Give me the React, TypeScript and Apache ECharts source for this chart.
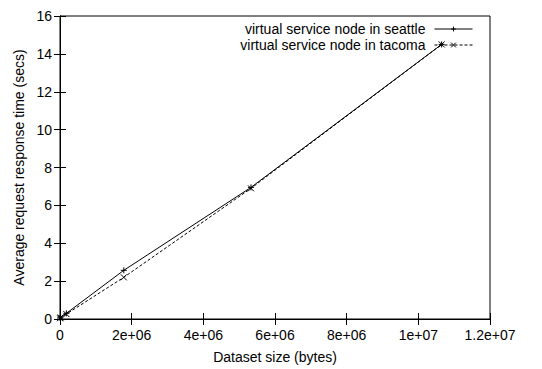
import React, { useEffect, useRef } from "react";
import * as echarts from "echarts";

const xSizes = [1700, 17800, 178000, 1780000, 5330000, 10650000];
const seattleTimes = [0.05, 0.1, 0.3, 2.57, 6.95, 14.5];
const tacomaTimes = [0.04, 0.08, 0.26, 2.2, 6.9, 14.5];
const xTickLabels = ["0", "2e+06", "4e+06", "6e+06", "8e+06", "1e+07", "1.2e+07"];
const yTickLabels = ["0", "2", "4", "6", "8", "10", "12", "14", "16"];
const seriesNames = ["virtual service node in seattle", "virtual service node in tacoma"];

const PLUS = "path://M0,5L10,5M5,0L5,10";
const CROSS = "path://M0,0L10,10M10,0L0,10";

export default function App() {
  const ref = useRef<HTMLDivElement>(null);
  useEffect(() => {
    if (!ref.current) return;
    const chart = echarts.init(ref.current, undefined, { renderer: "svg" });
    const font = "'Liberation Sans', Arial, Helvetica, sans-serif";
    const axisCommon = {
      axisLine: { show: true, lineStyle: { color: "#000", width: 1 } },
      axisTick: { show: true, inside: true, length: 6, lineStyle: { color: "#000" } },
      splitLine: { show: false },
    };
    const legendCommon = {
      right: 64,
      align: "right",
      itemWidth: 38,
      itemHeight: 6,
      lineStyle: { width: 1 },
      itemStyle: { borderWidth: 1 },
      textStyle: { fontSize: 14, color: "#000", fontFamily: font, padding: [0, 4, 0, 0] },
    };
    chart.setOption({
      animation: false,
      textStyle: { fontFamily: font },
      grid: {
        left: 60,
        right: 52,
        top: 16,
        bottom: 47,
        show: true,
        borderColor: "#000",
        borderWidth: 1,
        backgroundColor: "transparent",
      },
      legend: [
        { ...legendCommon, data: [seriesNames[0]], top: 17 },
        { ...legendCommon, data: [seriesNames[1]], top: 33 },
      ],
      xAxis: [
        {
          type: "value",
          min: 0,
          max: 12000000,
          interval: 2000000,
          ...axisCommon,
          axisLabel: {
            color: "#000",
            fontSize: 14,
            margin: 9,
            fontFamily: font,
            formatter: (_v: number, i: number) => xTickLabels[i],
          },
          name: "Dataset size (bytes)",
          nameLocation: "middle",
          nameGap: 31,
          nameTextStyle: { color: "#000", fontSize: 14, fontFamily: font },
        },
        {
          type: "value",
          position: "top",
          min: 0,
          max: 12000000,
          interval: 2000000,
          ...axisCommon,
          axisLabel: { show: false },
        },
      ],
      yAxis: [
        {
          type: "value",
          min: 0,
          max: 16,
          interval: 2,
          ...axisCommon,
          axisLabel: {
            color: "#000",
            fontSize: 14,
            margin: 8,
            fontFamily: font,
            formatter: (_v: number, i: number) => yTickLabels[i],
          },
          name: "Average request response time (secs)",
          nameLocation: "middle",
          nameGap: 32,
          nameTextStyle: { color: "#000", fontSize: 14, fontFamily: font },
        },
        {
          type: "value",
          position: "right",
          min: 0,
          max: 16,
          interval: 2,
          ...axisCommon,
          axisLabel: { show: false },
        },
      ],
      series: [
        {
          name: seriesNames[0],
          type: "line",
          data: xSizes.map((x, i) => [x, seattleTimes[i]]),
          symbol: PLUS,
          symbolSize: 6,
          showAllSymbol: true,
          lineStyle: { color: "#000", width: 1, type: "solid" },
          itemStyle: { color: "#000", borderColor: "#000", borderWidth: 1 },
        },
        {
          name: seriesNames[1],
          type: "line",
          data: xSizes.map((x, i) => [x, tacomaTimes[i]]),
          symbol: CROSS,
          symbolSize: 6,
          showAllSymbol: true,
          lineStyle: { color: "#000", width: 1, type: [3, 2] },
          itemStyle: { color: "#000", borderColor: "#000", borderWidth: 1 },
        },
      ],
    });
    return () => chart.dispose();
  }, []);
  return <div ref={ref} style={{ width: 542, height: 369, position: "absolute", left: 0, top: 0 }} />;
}
